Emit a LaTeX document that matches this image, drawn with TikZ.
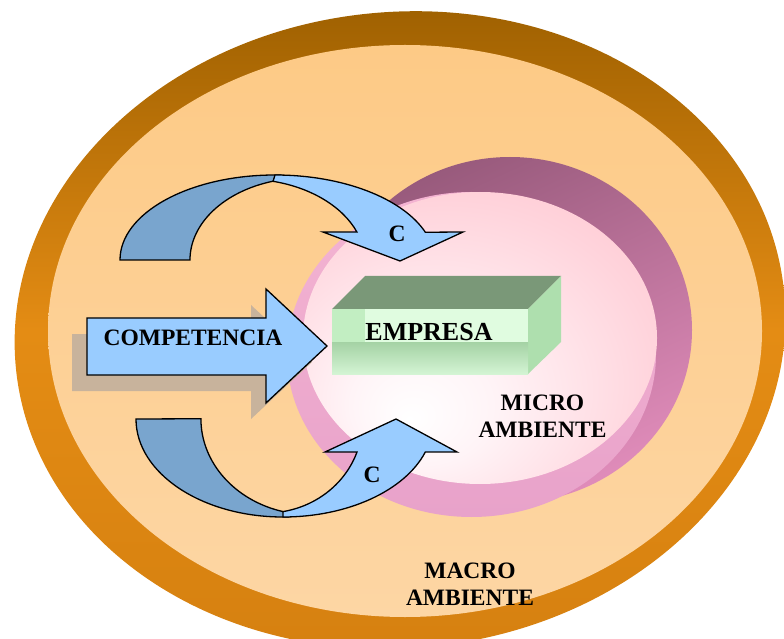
\documentclass[tikz,border=0pt]{standalone}
\usepackage{fontspec}
\setmainfont{Liberation Serif}
\definecolor{brn1}{HTML}{9C5F00}
\definecolor{brn2}{HTML}{E48C14}
\definecolor{brn3}{HTML}{D58010}
\definecolor{pch1}{HTML}{FDCA86}
\definecolor{pch2}{HTML}{FDD6A4}
\definecolor{mv1}{HTML}{985A7C}
\definecolor{mv2}{HTML}{E08CBA}
\definecolor{pk1}{HTML}{F4B4D2}
\definecolor{pk2}{HTML}{E8A2CA}
\definecolor{pkA}{HTML}{FFF4F7}
\definecolor{pkB}{HTML}{FFD4DC}
\definecolor{pkC}{HTML}{FFBAC6}
\definecolor{arlight}{HTML}{99CCFF}
\definecolor{ardark}{HTML}{79A5CE}
\definecolor{shad}{HTML}{C8B39C}
\definecolor{gtop}{HTML}{7A9878}
\definecolor{gright}{HTML}{AEDFAE}
\definecolor{gfront}{HTML}{C2EEC2}
\definecolor{gshine}{HTML}{E0FCE0}
\definecolor{glow1}{HTML}{A4D2A4}
\definecolor{glow2}{HTML}{D4F4D4}
\pgfdeclareradialshading{microshade}{\pgfpoint{-10bp}{-14bp}}{color(0bp)=(white); color(10bp)=(pkA); color(30bp)=(pkB); color(48bp)=(pkC); color(60bp)=(pkC)}
\tikzset{
  lbl/.style={font=\bfseries\fontsize{23.5}{26.6}\selectfont, align=center, inner sep=0pt, text=black},
  arrowshape/.style={draw=black, line width=1.3pt, line join=miter},
}
\begin{document}
\begin{tikzpicture}[x=1pt,y=1pt]
\useasboundingbox (0,0) rectangle (784,638);
\clip (0,0) rectangle (784,638);
% macro environment: rim and face
\path[top color=brn1, bottom color=brn3, middle color=brn2, rotate around={5.8:(400,308)}]
  (400,308) ellipse[x radius=386, y radius=318];
\path[top color=pch1, bottom color=pch2] (405,307) ellipse[x radius=357, y radius=286];
% micro environment
\path[top color=mv1, bottom color=mv2, shading angle=25] (510,308) ellipse[x radius=182, y radius=173];
\path[top color=pk1, bottom color=pk2] (471.5,283.5) ellipse[x radius=184.5, y radius=162.5];
\path[shading=microshade] (480,300) ellipse[x radius=177, y radius=146];
% empresa box
\fill[gtop] (332,329) -- (365,362) -- (561,362) -- (528,329) -- cycle;
\fill[gright] (528,329) -- (561,362) -- (561,296) -- (528,264) -- cycle;
\fill[gfront] (332,329) rectangle (528,264);
\fill[gshine] (365,329) rectangle (528,296);
\path[top color=glow1, bottom color=glow2] (332,296) rectangle (528,264);
% competencia arrow with shadow
\fill[shad] (72,304) -- (251,304) -- (251,333) -- (312,276) -- (251,219) -- (251,247) -- (72,247) -- cycle;
\path[arrowshape, fill=arlight] (87,320) -- (266,320) -- (266,349) -- (327,292) -- (266,235) -- (266,263) -- (87,263) -- cycle;
% upper curved arrow
\path[arrowshape, fill=ardark] (120,378) arc[start angle=180, end angle=90, x radius=155, y radius=85]
  -- (280,463) -- (273.1,456.8) arc[start angle=106.1, end angle=180, x radius=115, y radius=82] -- cycle;
\path[arrowshape, fill=arlight] (275,463) arc[start angle=90, end angle=20, x radius=160, y radius=87]
  -- (463,406) -- (400,377) -- (323,406) -- (356.9,406)
  arc[start angle=21.2, end angle=76.5, x radius=120, y radius=83] -- cycle;
% lower curved arrow
\path[arrowshape, fill=ardark] (136,219) arc[start angle=180, end angle=270, x radius=147, y radius=98]
  -- (288,121) -- (283,126.4) arc[start angle=255.3, end angle=180, x radius=110, y radius=96] -- cycle;
\path[arrowshape, fill=arlight] (283,121) arc[start angle=270, end angle=341.6, x radius=150, y radius=95]
  -- (457,186) -- (396,219) -- (325,186) -- (357,186)
  arc[start angle=340.75, end angle=280.07, x radius=96.2, y radius=91] -- cycle;
% labels
\node[lbl] (comp) at (193,300.5) {COMPETENCIA};
\node[lbl, font=\bfseries\fontsize{26}{30}\selectfont] (emp) at (429,305.5) {EMPRESA};
\node[lbl] (cup) at (397,404) {C};
\node[lbl] (cdown) at (372,163) {C};
\node[lbl] (micro) at (542.5,222) {MICRO\\AMBIENTE};
\node[lbl] (macro) at (470,54) {MACRO\\AMBIENTE};
\end{tikzpicture}
\end{document}
